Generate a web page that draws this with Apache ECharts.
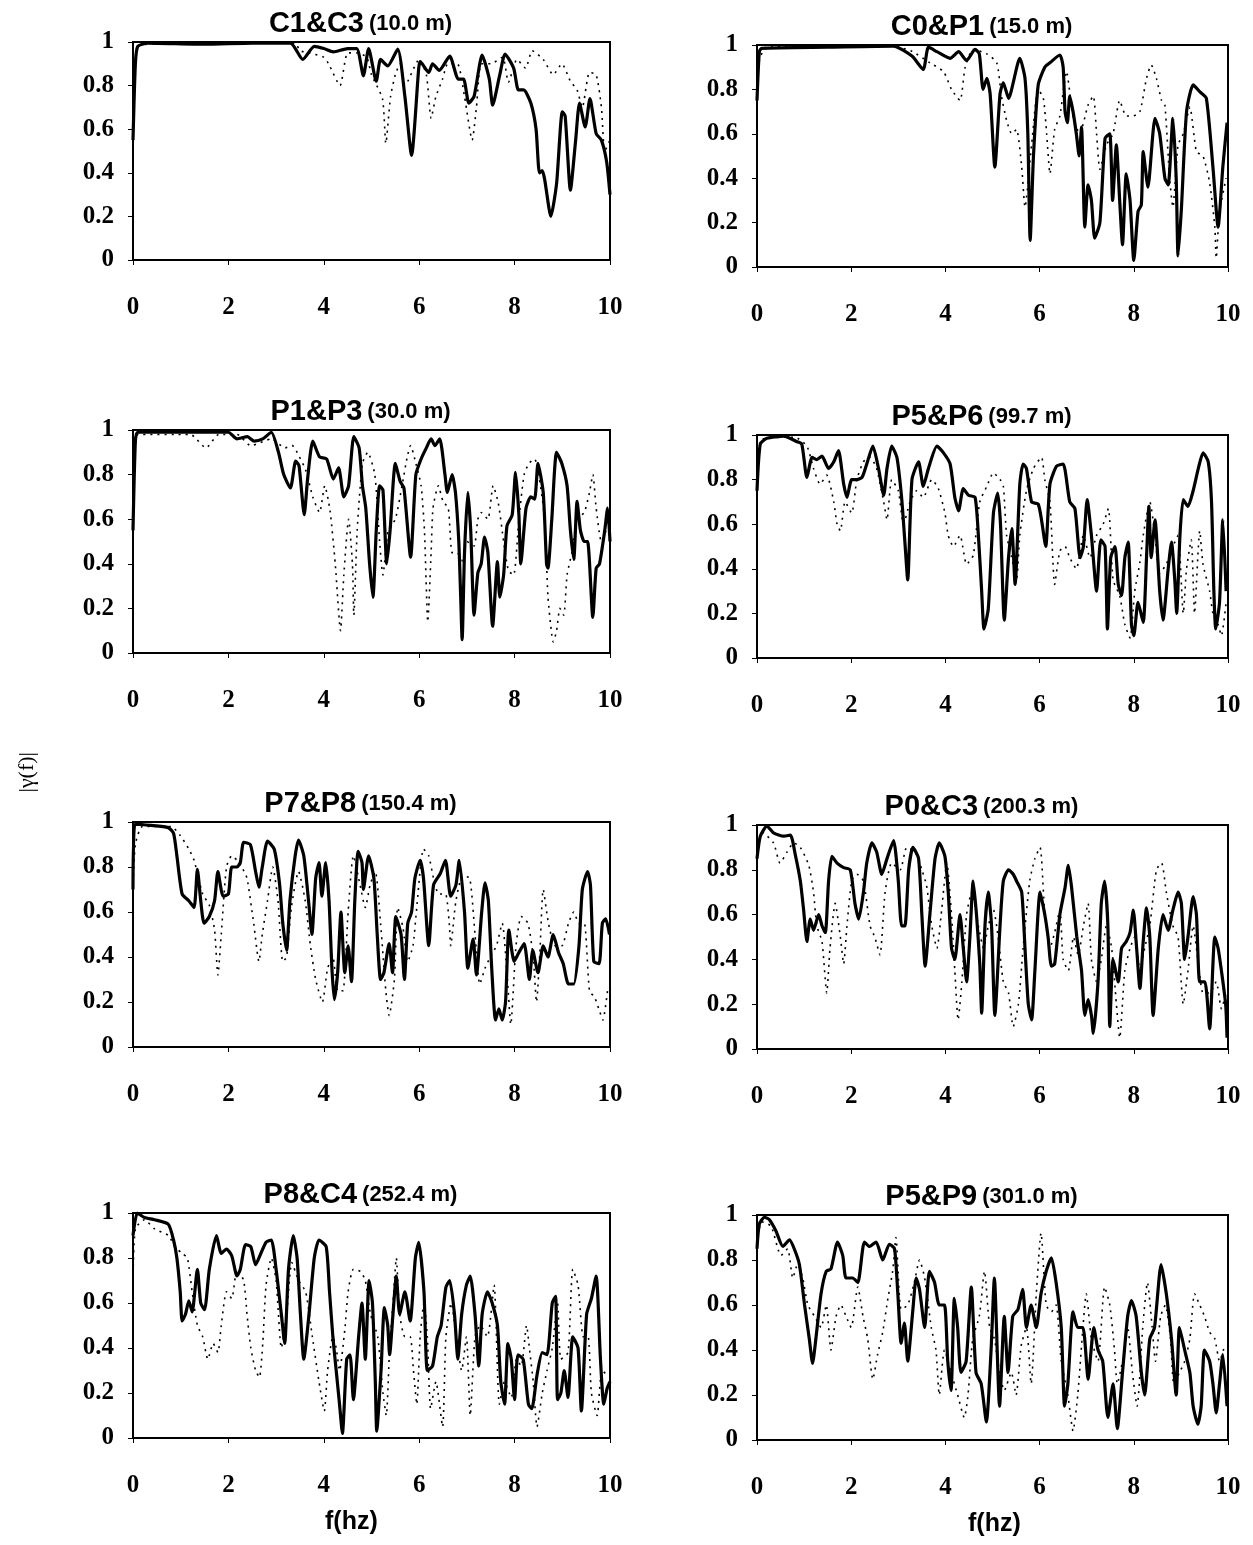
<!DOCTYPE html>
<html lang="en">
<head>
    <meta charset="utf-8">
    <title>coherency</title>
    <script src="https://cdn.jsdelivr.net/npm/echarts@6/dist/echarts.min.js"></script>
    <style type="text/css">
        html, body {
            margin: 0;
            padding: 0;
            background: #ffffff;
        }

        #main {
            width: 1253px;
            height: 1545px;
        }
    </style>
</head>
<body>
<div id="main"></div>
<script type="text/javascript">
    // panel titles: pair name + distance
    const pairNames = ['C1&C3', 'C0&P1', 'P1&P3', 'P5&P6', 'P7&P8', 'P0&C3', 'P8&C4', 'P5&P9'];
    const distances = ['(10.0 m)', '(15.0 m)', '(30.0 m)', '(99.7 m)', '(150.4 m)', '(200.3 m)', '(252.4 m)', '(301.0 m)'];
    const xTicks = [0, 2, 4, 6, 8, 10];

    // [f (hz), |gamma(f)|]  solid = thick line, dot = dotted line
    const c1c3Solid = [[0, 0.55], [0.05, 0.9], [0.1, 0.98], [0.3, 0.995], [1.5, 0.99], [2.5, 0.995], [3.3, 0.995], [3.56, 0.92], [3.8, 0.98], [4.0, 0.97], [4.2, 0.955], [4.5, 0.97], [4.69, 0.97], [4.83, 0.845], [4.94, 0.97], [5.1, 0.82], [5.19, 0.92], [5.34, 0.89], [5.55, 0.967], [5.7, 0.75], [5.84, 0.48], [5.99, 0.88], [6.02, 0.91], [6.2, 0.86], [6.28, 0.9], [6.42, 0.87], [6.64, 0.935], [6.82, 0.83], [6.93, 0.83], [7.04, 0.72], [7.15, 0.75], [7.32, 0.94], [7.47, 0.83], [7.54, 0.71], [7.69, 0.85], [7.8, 0.945], [7.98, 0.88], [8.08, 0.78], [8.19, 0.78], [8.34, 0.72], [8.45, 0.6], [8.52, 0.4], [8.58, 0.41], [8.63, 0.37], [8.76, 0.2], [8.88, 0.35], [9.0, 0.68], [9.06, 0.66], [9.17, 0.32], [9.28, 0.55], [9.36, 0.72], [9.48, 0.61], [9.58, 0.74], [9.71, 0.58], [9.82, 0.55], [9.93, 0.45], [10, 0.3]];
    const c1c3Dot = [[0, 0.6], [0.1, 0.98], [1.0, 0.995], [3.4, 0.995], [3.5, 0.96], [3.7, 0.95], [4.0, 0.93], [4.1, 0.9], [4.34, 0.8], [4.5, 0.95], [4.7, 0.95], [4.9, 0.93], [5.0, 0.85], [5.23, 0.74], [5.3, 0.535], [5.4, 0.75], [5.5, 0.85], [5.6, 0.9], [5.7, 0.8], [6.0, 0.92], [6.15, 0.85], [6.25, 0.65], [6.35, 0.75], [6.49, 0.83], [6.6, 0.9], [6.8, 0.9], [6.95, 0.75], [7.11, 0.55], [7.2, 0.7], [7.3, 0.9], [7.5, 0.9], [7.75, 0.93], [7.87, 0.815], [8.05, 0.92], [8.23, 0.88], [8.37, 0.96], [8.6, 0.92], [8.81, 0.85], [8.99, 0.9], [9.17, 0.82], [9.31, 0.78], [9.42, 0.7], [9.57, 0.86], [9.71, 0.85], [9.82, 0.7], [9.89, 0.5], [10, 0.55]];

    const c0p1Solid = [[0, 0.75], [0.05, 0.97], [0.1, 0.985], [1.5, 0.99], [2.9, 0.995], [3.29, 0.95], [3.53, 0.89], [3.64, 0.99], [3.82, 0.97], [4.1, 0.94], [4.28, 0.97], [4.45, 0.93], [4.63, 0.98], [4.72, 0.96], [4.8, 0.8], [4.88, 0.85], [4.95, 0.78], [5.05, 0.45], [5.16, 0.78], [5.23, 0.83], [5.34, 0.76], [5.58, 0.94], [5.69, 0.85], [5.75, 0.6], [5.8, 0.12], [5.87, 0.5], [5.97, 0.82], [6.11, 0.9], [6.22, 0.92], [6.43, 0.955], [6.5, 0.9], [6.54, 0.7], [6.59, 0.65], [6.64, 0.77], [6.71, 0.7], [6.78, 0.6], [6.84, 0.5], [6.89, 0.63], [6.96, 0.18], [7.03, 0.37], [7.1, 0.3], [7.17, 0.13], [7.28, 0.2], [7.39, 0.58], [7.49, 0.6], [7.55, 0.3], [7.63, 0.55], [7.7, 0.3], [7.76, 0.1], [7.84, 0.42], [7.92, 0.3], [8.0, 0.03], [8.09, 0.25], [8.16, 0.28], [8.2, 0.52], [8.3, 0.36], [8.45, 0.67], [8.55, 0.6], [8.66, 0.4], [8.73, 0.37], [8.83, 0.67], [8.9, 0.4], [8.94, 0.05], [9.01, 0.26], [9.12, 0.7], [9.26, 0.82], [9.4, 0.79], [9.54, 0.76], [9.68, 0.45], [9.79, 0.18], [9.89, 0.45], [9.98, 0.65]];
    const c0p1Dot = [[0, 0.8], [0.05, 0.93], [0.2, 0.99], [2.9, 0.995], [3.3, 0.97], [3.67, 0.92], [3.96, 0.88], [4.13, 0.8], [4.31, 0.75], [4.42, 0.9], [4.59, 0.98], [4.88, 0.96], [5.09, 0.92], [5.19, 0.77], [5.3, 0.66], [5.41, 0.6], [5.51, 0.62], [5.62, 0.45], [5.69, 0.27], [5.83, 0.55], [5.97, 0.8], [6.08, 0.76], [6.15, 0.6], [6.22, 0.42], [6.32, 0.62], [6.43, 0.68], [6.57, 0.88], [6.71, 0.68], [6.85, 0.6], [7.03, 0.73], [7.14, 0.77], [7.21, 0.6], [7.28, 0.44], [7.42, 0.55], [7.56, 0.6], [7.7, 0.75], [7.84, 0.68], [7.98, 0.68], [8.13, 0.7], [8.27, 0.85], [8.37, 0.91], [8.48, 0.85], [8.59, 0.75], [8.66, 0.73], [8.76, 0.4], [8.83, 0.27], [8.94, 0.55], [9.05, 0.6], [9.19, 0.72], [9.33, 0.52], [9.47, 0.5], [9.61, 0.38], [9.72, 0.18], [9.75, 0.04], [9.82, 0.25], [9.96, 0.4]];

    const p1p3Solid = [[0, 0.55], [0.05, 0.95], [0.1, 0.99], [1.5, 0.99], [2.0, 0.99], [2.18, 0.96], [2.4, 0.97], [2.54, 0.95], [2.72, 0.96], [2.9, 0.99], [3.05, 0.9], [3.16, 0.8], [3.3, 0.74], [3.41, 0.86], [3.48, 0.84], [3.59, 0.62], [3.66, 0.78], [3.77, 0.95], [3.91, 0.88], [4.06, 0.87], [4.2, 0.78], [4.31, 0.83], [4.42, 0.7], [4.52, 0.75], [4.63, 0.97], [4.74, 0.92], [4.81, 0.75], [4.88, 0.65], [4.96, 0.4], [5.03, 0.25], [5.1, 0.55], [5.17, 0.75], [5.24, 0.73], [5.32, 0.4], [5.39, 0.55], [5.5, 0.85], [5.6, 0.77], [5.68, 0.74], [5.82, 0.43], [5.93, 0.8], [6.04, 0.87], [6.15, 0.92], [6.25, 0.96], [6.33, 0.93], [6.43, 0.96], [6.54, 0.8], [6.59, 0.72], [6.69, 0.8], [6.76, 0.72], [6.83, 0.5], [6.87, 0.25], [6.9, 0.06], [6.95, 0.45], [7.02, 0.72], [7.08, 0.55], [7.15, 0.17], [7.23, 0.36], [7.3, 0.4], [7.37, 0.52], [7.44, 0.45], [7.54, 0.12], [7.64, 0.41], [7.69, 0.25], [7.77, 0.35], [7.84, 0.57], [7.95, 0.62], [8.02, 0.81], [8.09, 0.62], [8.13, 0.4], [8.24, 0.65], [8.34, 0.7], [8.42, 0.69], [8.49, 0.85], [8.6, 0.72], [8.67, 0.4], [8.7, 0.38], [8.78, 0.6], [8.88, 0.9], [8.99, 0.85], [9.1, 0.75], [9.17, 0.55], [9.24, 0.42], [9.31, 0.68], [9.38, 0.55], [9.46, 0.5], [9.53, 0.5], [9.64, 0.16], [9.71, 0.38], [9.78, 0.4], [9.89, 0.55], [9.95, 0.65], [10, 0.5]];
    const p1p3Dot = [[0, 0.6], [0.1, 0.98], [1.2, 0.98], [1.53, 0.92], [1.8, 0.98], [2.18, 0.98], [2.47, 0.93], [2.9, 0.96], [3.19, 0.92], [3.34, 0.93], [3.44, 0.9], [3.62, 0.82], [3.77, 0.7], [3.91, 0.63], [4.02, 0.75], [4.13, 0.64], [4.24, 0.4], [4.35, 0.1], [4.42, 0.35], [4.52, 0.6], [4.6, 0.4], [4.63, 0.17], [4.7, 0.55], [4.81, 0.85], [4.92, 0.9], [5.07, 0.8], [5.17, 0.5], [5.24, 0.35], [5.35, 0.55], [5.5, 0.6], [5.64, 0.75], [5.75, 0.88], [5.82, 0.93], [5.93, 0.85], [6.04, 0.75], [6.11, 0.55], [6.18, 0.14], [6.25, 0.45], [6.29, 0.65], [6.4, 0.75], [6.5, 0.68], [6.61, 0.65], [6.69, 0.45], [6.8, 0.45], [6.9, 0.4], [7.0, 0.5], [7.15, 0.48], [7.23, 0.6], [7.3, 0.63], [7.44, 0.6], [7.55, 0.75], [7.66, 0.67], [7.77, 0.5], [7.87, 0.37], [7.98, 0.35], [8.09, 0.6], [8.2, 0.8], [8.3, 0.85], [8.42, 0.87], [8.52, 0.78], [8.63, 0.6], [8.7, 0.25], [8.78, 0.08], [8.81, 0.05], [8.88, 0.1], [8.95, 0.2], [9.03, 0.17], [9.1, 0.35], [9.2, 0.45], [9.31, 0.6], [9.46, 0.63], [9.57, 0.72], [9.64, 0.8], [9.71, 0.65], [9.82, 0.5], [9.92, 0.55]];

    const p5p6Solid = [[0, 0.75], [0.07, 0.96], [0.21, 0.985], [0.57, 0.995], [0.85, 0.97], [0.95, 0.96], [1.06, 0.81], [1.17, 0.9], [1.27, 0.89], [1.38, 0.905], [1.52, 0.85], [1.63, 0.88], [1.73, 0.93], [1.84, 0.78], [1.91, 0.72], [2.01, 0.8], [2.12, 0.8], [2.23, 0.81], [2.33, 0.87], [2.46, 0.95], [2.58, 0.85], [2.69, 0.73], [2.76, 0.85], [2.86, 0.95], [2.97, 0.9], [3.07, 0.72], [3.14, 0.52], [3.2, 0.35], [3.29, 0.8], [3.43, 0.88], [3.53, 0.77], [3.64, 0.85], [3.82, 0.95], [3.96, 0.92], [4.1, 0.87], [4.2, 0.72], [4.28, 0.66], [4.38, 0.76], [4.49, 0.73], [4.63, 0.72], [4.7, 0.55], [4.77, 0.3], [4.82, 0.13], [4.91, 0.22], [5.02, 0.65], [5.11, 0.74], [5.17, 0.6], [5.25, 0.17], [5.34, 0.45], [5.41, 0.58], [5.48, 0.33], [5.58, 0.78], [5.65, 0.87], [5.72, 0.85], [5.83, 0.7], [5.97, 0.69], [6.04, 0.62], [6.13, 0.5], [6.22, 0.78], [6.36, 0.86], [6.5, 0.87], [6.64, 0.7], [6.75, 0.67], [6.86, 0.45], [6.93, 0.5], [7.01, 0.71], [7.1, 0.55], [7.21, 0.3], [7.3, 0.53], [7.39, 0.5], [7.44, 0.13], [7.51, 0.45], [7.6, 0.5], [7.67, 0.33], [7.74, 0.28], [7.81, 0.45], [7.88, 0.52], [7.95, 0.15], [8.0, 0.1], [8.09, 0.25], [8.2, 0.16], [8.27, 0.45], [8.32, 0.68], [8.37, 0.45], [8.45, 0.62], [8.55, 0.3], [8.62, 0.17], [8.73, 0.4], [8.8, 0.52], [8.87, 0.35], [8.91, 0.2], [8.98, 0.55], [9.05, 0.71], [9.15, 0.68], [9.26, 0.75], [9.37, 0.85], [9.47, 0.92], [9.58, 0.88], [9.65, 0.7], [9.7, 0.3], [9.74, 0.13], [9.82, 0.25], [9.89, 0.62], [9.96, 0.3]];
    const p5p6Dot = [[0, 0.8], [0.1, 0.98], [0.8, 0.99], [1.06, 0.95], [1.2, 0.85], [1.34, 0.78], [1.48, 0.82], [1.63, 0.7], [1.7, 0.6], [1.77, 0.57], [1.87, 0.7], [2.01, 0.65], [2.12, 0.8], [2.26, 0.88], [2.4, 0.9], [2.54, 0.85], [2.69, 0.7], [2.76, 0.62], [2.86, 0.8], [3.0, 0.75], [3.11, 0.6], [3.25, 0.7], [3.39, 0.75], [3.53, 0.72], [3.71, 0.8], [3.85, 0.76], [3.99, 0.65], [4.06, 0.55], [4.17, 0.5], [4.31, 0.55], [4.45, 0.42], [4.59, 0.46], [4.73, 0.7], [4.88, 0.77], [5.02, 0.83], [5.16, 0.8], [5.23, 0.77], [5.3, 0.55], [5.41, 0.45], [5.51, 0.35], [5.58, 0.55], [5.72, 0.75], [5.87, 0.85], [6.04, 0.9], [6.11, 0.8], [6.22, 0.7], [6.32, 0.33], [6.43, 0.48], [6.54, 0.5], [6.64, 0.45], [6.78, 0.4], [6.93, 0.55], [7.07, 0.45], [7.21, 0.55], [7.35, 0.6], [7.46, 0.67], [7.56, 0.35], [7.7, 0.28], [7.81, 0.15], [7.92, 0.09], [8.02, 0.3], [8.13, 0.43], [8.2, 0.55], [8.34, 0.7], [8.45, 0.55], [8.55, 0.38], [8.69, 0.42], [8.83, 0.5], [8.94, 0.55], [9.05, 0.2], [9.12, 0.4], [9.22, 0.53], [9.29, 0.2], [9.4, 0.57], [9.47, 0.42], [9.61, 0.3], [9.68, 0.2], [9.79, 0.15], [9.86, 0.1], [9.96, 0.25]];

    const p7p8Solid = [[0, 0.7], [0.04, 0.99], [0.38, 0.985], [0.74, 0.975], [0.85, 0.95], [0.92, 0.85], [1.03, 0.68], [1.17, 0.65], [1.28, 0.62], [1.35, 0.79], [1.42, 0.65], [1.49, 0.55], [1.6, 0.58], [1.71, 0.65], [1.78, 0.78], [1.89, 0.67], [2.0, 0.68], [2.07, 0.8], [2.18, 0.8], [2.25, 0.82], [2.32, 0.91], [2.46, 0.9], [2.57, 0.78], [2.64, 0.71], [2.71, 0.8], [2.82, 0.915], [2.96, 0.88], [3.07, 0.73], [3.14, 0.55], [3.22, 0.43], [3.29, 0.65], [3.4, 0.85], [3.47, 0.92], [3.58, 0.85], [3.68, 0.65], [3.75, 0.5], [3.83, 0.75], [3.9, 0.82], [3.96, 0.67], [4.04, 0.82], [4.11, 0.65], [4.17, 0.35], [4.22, 0.21], [4.29, 0.33], [4.36, 0.6], [4.44, 0.33], [4.51, 0.45], [4.58, 0.29], [4.65, 0.65], [4.72, 0.87], [4.8, 0.82], [4.83, 0.7], [4.94, 0.85], [5.05, 0.75], [5.12, 0.5], [5.19, 0.3], [5.26, 0.33], [5.37, 0.46], [5.44, 0.33], [5.51, 0.58], [5.62, 0.5], [5.69, 0.3], [5.76, 0.55], [5.84, 0.6], [5.91, 0.75], [6.02, 0.83], [6.09, 0.75], [6.2, 0.45], [6.3, 0.72], [6.44, 0.77], [6.55, 0.83], [6.66, 0.67], [6.77, 0.72], [6.84, 0.83], [6.95, 0.6], [7.02, 0.35], [7.13, 0.48], [7.2, 0.32], [7.31, 0.6], [7.38, 0.73], [7.45, 0.65], [7.52, 0.35], [7.6, 0.12], [7.67, 0.17], [7.74, 0.12], [7.81, 0.2], [7.88, 0.52], [7.99, 0.38], [8.09, 0.42], [8.2, 0.46], [8.31, 0.3], [8.38, 0.43], [8.49, 0.33], [8.6, 0.45], [8.7, 0.4], [8.81, 0.5], [8.92, 0.42], [9.02, 0.37], [9.13, 0.28], [9.24, 0.28], [9.35, 0.45], [9.42, 0.7], [9.53, 0.78], [9.59, 0.72], [9.66, 0.38], [9.77, 0.37], [9.84, 0.55], [9.91, 0.57], [9.99, 0.5]];
    const p7p8Dot = [[0, 0.7], [0.05, 0.9], [0.2, 0.98], [0.8, 0.98], [0.99, 0.94], [1.17, 0.88], [1.28, 0.83], [1.46, 0.68], [1.6, 0.63], [1.71, 0.52], [1.78, 0.32], [1.85, 0.5], [1.96, 0.8], [2.07, 0.85], [2.18, 0.83], [2.28, 0.8], [2.39, 0.75], [2.53, 0.55], [2.64, 0.38], [2.71, 0.5], [2.82, 0.65], [2.93, 0.8], [3.04, 0.65], [3.14, 0.38], [3.22, 0.4], [3.32, 0.62], [3.47, 0.78], [3.61, 0.65], [3.72, 0.45], [3.83, 0.3], [3.97, 0.2], [4.08, 0.35], [4.19, 0.4], [4.29, 0.25], [4.4, 0.25], [4.51, 0.6], [4.62, 0.85], [4.76, 0.72], [4.87, 0.62], [4.97, 0.72], [5.08, 0.78], [5.19, 0.55], [5.3, 0.25], [5.37, 0.14], [5.48, 0.3], [5.55, 0.62], [5.66, 0.53], [5.76, 0.38], [5.87, 0.45], [5.94, 0.6], [6.09, 0.88], [6.2, 0.85], [6.3, 0.75], [6.41, 0.68], [6.55, 0.68], [6.63, 0.55], [6.66, 0.45], [6.77, 0.65], [6.91, 0.76], [7.06, 0.75], [7.17, 0.5], [7.27, 0.28], [7.38, 0.35], [7.49, 0.4], [7.62, 0.45], [7.74, 0.55], [7.85, 0.3], [7.92, 0.1], [8.03, 0.45], [8.14, 0.58], [8.28, 0.55], [8.39, 0.4], [8.46, 0.2], [8.53, 0.42], [8.6, 0.7], [8.71, 0.55], [8.85, 0.45], [8.99, 0.45], [9.13, 0.55], [9.24, 0.6], [9.35, 0.55], [9.46, 0.55], [9.57, 0.25], [9.68, 0.22], [9.78, 0.16], [9.85, 0.12], [9.96, 0.27]];

    const p0c3Solid = [[0, 0.85], [0.07, 0.95], [0.21, 0.995], [0.35, 0.965], [0.57, 0.95], [0.71, 0.955], [0.81, 0.87], [0.92, 0.75], [0.99, 0.62], [1.06, 0.48], [1.13, 0.58], [1.2, 0.53], [1.31, 0.6], [1.38, 0.55], [1.45, 0.52], [1.52, 0.75], [1.59, 0.86], [1.7, 0.83], [1.84, 0.81], [1.98, 0.8], [2.08, 0.65], [2.16, 0.58], [2.26, 0.7], [2.33, 0.83], [2.44, 0.92], [2.54, 0.88], [2.65, 0.78], [2.76, 0.85], [2.9, 0.93], [3.0, 0.75], [3.07, 0.55], [3.14, 0.55], [3.22, 0.8], [3.31, 0.9], [3.43, 0.85], [3.5, 0.6], [3.57, 0.37], [3.67, 0.6], [3.78, 0.85], [3.87, 0.92], [3.99, 0.86], [4.06, 0.7], [4.13, 0.45], [4.2, 0.4], [4.31, 0.6], [4.38, 0.45], [4.45, 0.3], [4.52, 0.5], [4.59, 0.75], [4.66, 0.6], [4.73, 0.38], [4.77, 0.16], [4.84, 0.55], [4.91, 0.7], [4.98, 0.55], [5.05, 0.15], [5.16, 0.55], [5.23, 0.75], [5.34, 0.8], [5.44, 0.78], [5.51, 0.75], [5.62, 0.7], [5.69, 0.45], [5.76, 0.2], [5.83, 0.13], [5.9, 0.35], [6.01, 0.7], [6.11, 0.6], [6.18, 0.5], [6.25, 0.37], [6.32, 0.38], [6.43, 0.6], [6.54, 0.72], [6.61, 0.82], [6.68, 0.72], [6.79, 0.5], [6.89, 0.35], [6.96, 0.15], [7.03, 0.22], [7.1, 0.15], [7.14, 0.07], [7.24, 0.3], [7.31, 0.65], [7.38, 0.75], [7.45, 0.55], [7.49, 0.1], [7.56, 0.4], [7.67, 0.3], [7.74, 0.45], [7.84, 0.48], [7.92, 0.52], [7.99, 0.62], [8.06, 0.45], [8.13, 0.27], [8.2, 0.48], [8.27, 0.63], [8.34, 0.5], [8.41, 0.15], [8.52, 0.45], [8.62, 0.6], [8.73, 0.53], [8.83, 0.62], [8.94, 0.7], [9.01, 0.65], [9.08, 0.4], [9.15, 0.5], [9.26, 0.68], [9.33, 0.6], [9.4, 0.3], [9.51, 0.3], [9.61, 0.09], [9.72, 0.5], [9.79, 0.45], [9.86, 0.35], [9.95, 0.2], [9.98, 0.05]];
    const p0c3Dot = [[0, 0.85], [0.1, 0.97], [0.35, 0.92], [0.49, 0.83], [0.64, 0.88], [0.78, 0.92], [0.92, 0.9], [1.1, 0.82], [1.2, 0.7], [1.27, 0.55], [1.38, 0.48], [1.48, 0.25], [1.55, 0.45], [1.66, 0.65], [1.77, 0.5], [1.84, 0.38], [1.91, 0.55], [2.01, 0.75], [2.12, 0.78], [2.26, 0.75], [2.4, 0.55], [2.5, 0.5], [2.61, 0.42], [2.72, 0.7], [2.86, 0.83], [3.04, 0.8], [3.18, 0.9], [3.36, 0.88], [3.5, 0.8], [3.6, 0.73], [3.71, 0.55], [3.82, 0.45], [3.92, 0.62], [4.03, 0.83], [4.13, 0.6], [4.2, 0.35], [4.27, 0.13], [4.35, 0.3], [4.45, 0.6], [4.56, 0.7], [4.7, 0.55], [4.81, 0.45], [4.91, 0.55], [5.02, 0.62], [5.12, 0.5], [5.23, 0.3], [5.34, 0.25], [5.44, 0.1], [5.55, 0.2], [5.65, 0.45], [5.79, 0.75], [5.9, 0.85], [6.01, 0.9], [6.11, 0.6], [6.22, 0.45], [6.32, 0.52], [6.43, 0.62], [6.5, 0.4], [6.61, 0.35], [6.72, 0.5], [6.82, 0.42], [6.93, 0.55], [7.03, 0.65], [7.1, 0.4], [7.21, 0.3], [7.31, 0.4], [7.42, 0.55], [7.53, 0.45], [7.63, 0.2], [7.7, 0.05], [7.81, 0.35], [7.92, 0.45], [8.02, 0.5], [8.13, 0.35], [8.23, 0.45], [8.34, 0.55], [8.48, 0.8], [8.59, 0.83], [8.69, 0.7], [8.83, 0.55], [8.94, 0.5], [9.05, 0.2], [9.15, 0.35], [9.26, 0.55], [9.36, 0.4], [9.47, 0.25], [9.61, 0.25], [9.75, 0.3], [9.86, 0.18], [9.96, 0.25]];

    const p8c4Solid = [[0, 0.9], [0.09, 1.0], [0.24, 0.98], [0.45, 0.97], [0.74, 0.95], [0.85, 0.88], [0.92, 0.8], [0.99, 0.65], [1.03, 0.52], [1.1, 0.55], [1.17, 0.61], [1.24, 0.56], [1.35, 0.75], [1.42, 0.6], [1.5, 0.57], [1.6, 0.75], [1.75, 0.9], [1.85, 0.82], [1.96, 0.84], [2.07, 0.81], [2.18, 0.72], [2.25, 0.75], [2.36, 0.86], [2.47, 0.85], [2.57, 0.77], [2.68, 0.82], [2.79, 0.87], [2.9, 0.88], [3.0, 0.75], [3.11, 0.55], [3.18, 0.42], [3.26, 0.75], [3.36, 0.9], [3.44, 0.8], [3.51, 0.55], [3.58, 0.35], [3.69, 0.55], [3.8, 0.8], [3.9, 0.88], [4.05, 0.85], [4.12, 0.65], [4.19, 0.45], [4.26, 0.3], [4.33, 0.15], [4.39, 0.02], [4.48, 0.35], [4.55, 0.37], [4.62, 0.17], [4.73, 0.45], [4.8, 0.6], [4.87, 0.35], [4.95, 0.7], [5.02, 0.6], [5.08, 0.25], [5.11, 0.03], [5.2, 0.3], [5.27, 0.58], [5.34, 0.5], [5.38, 0.37], [5.45, 0.55], [5.52, 0.72], [5.59, 0.55], [5.7, 0.65], [5.81, 0.52], [5.92, 0.8], [5.99, 0.87], [6.1, 0.65], [6.17, 0.3], [6.28, 0.32], [6.38, 0.45], [6.46, 0.5], [6.56, 0.67], [6.64, 0.7], [6.74, 0.55], [6.81, 0.35], [6.89, 0.55], [6.99, 0.68], [7.07, 0.72], [7.17, 0.55], [7.25, 0.32], [7.32, 0.55], [7.43, 0.65], [7.53, 0.6], [7.64, 0.5], [7.71, 0.25], [7.79, 0.15], [7.86, 0.42], [7.93, 0.35], [8.0, 0.17], [8.07, 0.37], [8.18, 0.35], [8.29, 0.15], [8.36, 0.13], [8.47, 0.28], [8.58, 0.38], [8.68, 0.37], [8.79, 0.6], [8.86, 0.63], [8.9, 0.17], [8.97, 0.2], [9.04, 0.3], [9.12, 0.18], [9.22, 0.45], [9.33, 0.4], [9.4, 0.12], [9.51, 0.55], [9.61, 0.62], [9.71, 0.72], [9.8, 0.35], [9.87, 0.15], [9.94, 0.22], [10, 0.25]];
    const p8c4Dot = [[0, 0.7], [0.05, 0.93], [0.24, 0.97], [0.45, 0.93], [0.74, 0.9], [0.88, 0.85], [1.03, 0.82], [1.14, 0.8], [1.24, 0.65], [1.35, 0.5], [1.46, 0.45], [1.57, 0.35], [1.68, 0.42], [1.78, 0.38], [1.85, 0.5], [1.96, 0.65], [2.07, 0.62], [2.18, 0.75], [2.32, 0.7], [2.39, 0.55], [2.47, 0.4], [2.57, 0.3], [2.65, 0.27], [2.72, 0.42], [2.79, 0.68], [2.9, 0.8], [3.0, 0.7], [3.11, 0.4], [3.22, 0.55], [3.33, 0.78], [3.47, 0.7], [3.62, 0.65], [3.76, 0.45], [3.9, 0.25], [4.01, 0.12], [4.08, 0.3], [4.19, 0.45], [4.26, 0.4], [4.33, 0.3], [4.44, 0.48], [4.51, 0.65], [4.62, 0.75], [4.77, 0.74], [4.87, 0.7], [4.98, 0.55], [5.13, 0.45], [5.24, 0.2], [5.31, 0.1], [5.38, 0.4], [5.45, 0.6], [5.52, 0.8], [5.59, 0.55], [5.7, 0.45], [5.81, 0.45], [5.88, 0.3], [5.95, 0.15], [6.02, 0.45], [6.1, 0.6], [6.17, 0.45], [6.24, 0.13], [6.35, 0.25], [6.49, 0.05], [6.56, 0.45], [6.67, 0.6], [6.78, 0.45], [6.89, 0.3], [6.99, 0.45], [7.07, 0.1], [7.17, 0.45], [7.28, 0.5], [7.43, 0.45], [7.57, 0.68], [7.68, 0.15], [7.79, 0.25], [7.93, 0.18], [8.04, 0.35], [8.14, 0.32], [8.25, 0.5], [8.32, 0.38], [8.39, 0.25], [8.47, 0.05], [8.58, 0.2], [8.68, 0.3], [8.79, 0.4], [8.9, 0.6], [8.97, 0.35], [9.12, 0.38], [9.22, 0.75], [9.33, 0.68], [9.44, 0.45], [9.54, 0.45], [9.61, 0.2], [9.73, 0.1], [9.83, 0.3], [9.94, 0.28]];

    const p5p9Solid = [[0, 0.85], [0.05, 0.96], [0.16, 0.99], [0.26, 0.98], [0.4, 0.93], [0.55, 0.86], [0.69, 0.89], [0.79, 0.85], [0.9, 0.78], [1.01, 0.6], [1.11, 0.45], [1.18, 0.34], [1.25, 0.45], [1.36, 0.65], [1.47, 0.75], [1.57, 0.76], [1.71, 0.88], [1.82, 0.82], [1.89, 0.72], [2.03, 0.72], [2.14, 0.7], [2.28, 0.88], [2.39, 0.86], [2.53, 0.88], [2.67, 0.8], [2.81, 0.87], [2.92, 0.85], [2.99, 0.65], [3.06, 0.43], [3.13, 0.52], [3.2, 0.35], [3.31, 0.58], [3.38, 0.72], [3.45, 0.67], [3.56, 0.5], [3.66, 0.75], [3.77, 0.7], [3.87, 0.6], [3.98, 0.6], [4.05, 0.35], [4.12, 0.22], [4.19, 0.63], [4.26, 0.5], [4.33, 0.3], [4.44, 0.35], [4.55, 0.68], [4.65, 0.3], [4.76, 0.25], [4.87, 0.08], [4.97, 0.4], [5.04, 0.72], [5.15, 0.15], [5.25, 0.55], [5.33, 0.3], [5.43, 0.55], [5.54, 0.58], [5.64, 0.67], [5.72, 0.5], [5.82, 0.6], [5.93, 0.5], [6.03, 0.65], [6.14, 0.75], [6.25, 0.81], [6.35, 0.7], [6.46, 0.5], [6.53, 0.15], [6.6, 0.25], [6.71, 0.57], [6.81, 0.5], [6.92, 0.5], [7.03, 0.27], [7.15, 0.5], [7.24, 0.4], [7.34, 0.35], [7.45, 0.1], [7.56, 0.25], [7.65, 0.05], [7.76, 0.3], [7.87, 0.55], [7.95, 0.62], [8.05, 0.55], [8.16, 0.3], [8.23, 0.2], [8.34, 0.45], [8.44, 0.5], [8.58, 0.78], [8.69, 0.65], [8.8, 0.45], [8.9, 0.2], [8.97, 0.5], [9.08, 0.4], [9.19, 0.3], [9.26, 0.15], [9.36, 0.07], [9.43, 0.15], [9.5, 0.4], [9.61, 0.35], [9.68, 0.25], [9.75, 0.12], [9.82, 0.25], [9.89, 0.38], [9.98, 0.15]];
    const p5p9Dot = [[0, 0.88], [0.1, 0.97], [0.3, 0.95], [0.51, 0.82], [0.65, 0.85], [0.76, 0.72], [0.86, 0.78], [0.97, 0.72], [1.08, 0.6], [1.22, 0.55], [1.36, 0.5], [1.47, 0.6], [1.57, 0.4], [1.68, 0.55], [1.78, 0.6], [1.89, 0.55], [2.0, 0.5], [2.14, 0.68], [2.25, 0.55], [2.35, 0.45], [2.46, 0.27], [2.56, 0.38], [2.67, 0.48], [2.78, 0.63], [2.88, 0.75], [2.95, 0.9], [3.06, 0.58], [3.2, 0.6], [3.34, 0.7], [3.45, 0.8], [3.56, 0.72], [3.7, 0.5], [3.8, 0.4], [3.87, 0.2], [3.98, 0.4], [4.12, 0.3], [4.26, 0.2], [4.4, 0.1], [4.48, 0.2], [4.58, 0.45], [4.72, 0.55], [4.83, 0.75], [4.94, 0.5], [5.04, 0.45], [5.15, 0.3], [5.25, 0.22], [5.4, 0.3], [5.5, 0.2], [5.61, 0.42], [5.72, 0.5], [5.82, 0.25], [5.93, 0.65], [6.03, 0.92], [6.14, 0.6], [6.25, 0.57], [6.35, 0.6], [6.46, 0.35], [6.6, 0.2], [6.71, 0.04], [6.81, 0.2], [6.92, 0.5], [6.99, 0.65], [7.1, 0.45], [7.24, 0.35], [7.38, 0.68], [7.49, 0.6], [7.59, 0.4], [7.65, 0.25], [7.76, 0.35], [7.87, 0.5], [7.97, 0.3], [8.07, 0.15], [8.19, 0.5], [8.29, 0.7], [8.39, 0.5], [8.46, 0.35], [8.57, 0.55], [8.67, 0.6], [8.78, 0.45], [8.85, 0.25], [8.97, 0.3], [9.08, 0.35], [9.19, 0.45], [9.29, 0.65], [9.4, 0.6], [9.5, 0.55], [9.61, 0.48], [9.72, 0.45], [9.82, 0.35], [9.93, 0.42]];

    const solidSets = [c1c3Solid, c0p1Solid, p1p3Solid, p5p6Solid, p7p8Solid, p0c3Solid, p8c4Solid, p5p9Solid];
    const dotSets = [c1c3Dot, c0p1Dot, p1p3Dot, p5p6Dot, p7p8Dot, p0c3Dot, p8c4Dot, p5p9Dot];

    const boxes = [
        [133, 42, 477, 218], [757, 45, 471, 222],
        [133, 430, 477, 223], [757, 435, 471, 223],
        [133, 822, 477, 225], [757, 825, 471, 224],
        [133, 1213, 477, 225], [757, 1215, 471, 225]
    ];

    let grids = [], xAxes = [], yAxes = [], titles = [], series = [];
    for (let i = 0; i < 8; i++) {
        let b = boxes[i];
        grids.push({
            left: b[0], top: b[1], width: b[2], height: b[3],
            show: true, borderColor: '#000', borderWidth: 2, backgroundColor: 'transparent'
        });
        xAxes.push({
            type: 'value', gridIndex: i, min: 0, max: 10, interval: 2,
            axisLine: {onZero: false, lineStyle: {color: '#000', width: 2}},
            axisTick: {inside: false, length: 5, lineStyle: {color: '#000', width: 1}},
            splitLine: {show: false},
            axisLabel: {
                margin: 35, color: '#000',
                fontFamily: 'Liberation Serif', fontSize: 25, fontWeight: 'bold',
                customValues: xTicks
            }
        });
        yAxes.push({
            type: 'value', gridIndex: i, min: 0, max: 1, interval: 0.2,
            axisLine: {show: true, lineStyle: {color: '#000', width: 2}},
            axisTick: {show: true, length: 5, lineStyle: {color: '#000', width: 1}},
            splitLine: {show: false},
            axisLabel: {
                margin: 19, color: '#000',
                fontFamily: 'Liberation Serif', fontSize: 25, fontWeight: 'bold'
            }
        });
        // titles sit a little left of the plot centre in the figure
        titles.push({
            text: '{a|' + pairNames[i] + '} {b|' + distances[i] + '}',
            left: b[0] + b[2] / 2 - 16, top: b[1] - 38, textAlign: 'center',
            textStyle: {
                rich: {
                    a: {fontFamily: 'Liberation Sans', fontWeight: 'bold', fontSize: 29, color: '#000'},
                    b: {fontFamily: 'Liberation Sans', fontWeight: 'bold', fontSize: 22, color: '#000'}
                }
            }
        });
        series.push({
            type: 'line', xAxisIndex: i, yAxisIndex: i, data: dotSets[i],
            showSymbol: false, smooth: 0.2, silent: true,
            lineStyle: {color: '#000', width: 1.6, type: [2, 5]}
        });
        series.push({
            type: 'line', xAxisIndex: i, yAxisIndex: i, data: solidSets[i],
            showSymbol: false, smooth: 0.2, silent: true,
            lineStyle: {color: '#000', width: 3.2}
        });
    }

    let chart = echarts.init(document.getElementById('main'), null, {renderer: 'canvas'});
    chart.setOption({
        backgroundColor: '#fff',
        animation: false,
        title: titles,
        grid: grids,
        xAxis: xAxes,
        yAxis: yAxes,
        series: series,
        graphic: [
            {
                type: 'text', left: 16, top: 752, rotation: Math.PI / 2,
                style: {text: '|γ(f)|', font: '22px "Liberation Serif"', fill: '#000'}
            },
            {
                type: 'text', left: 325, top: 1510,
                style: {text: 'f(hz)', font: 'bold 25px "Liberation Sans"', fill: '#000'}
            },
            {
                type: 'text', left: 968, top: 1512,
                style: {text: 'f(hz)', font: 'bold 25px "Liberation Sans"', fill: '#000'}
            }
        ]
    });
</script>
</body>
</html>
